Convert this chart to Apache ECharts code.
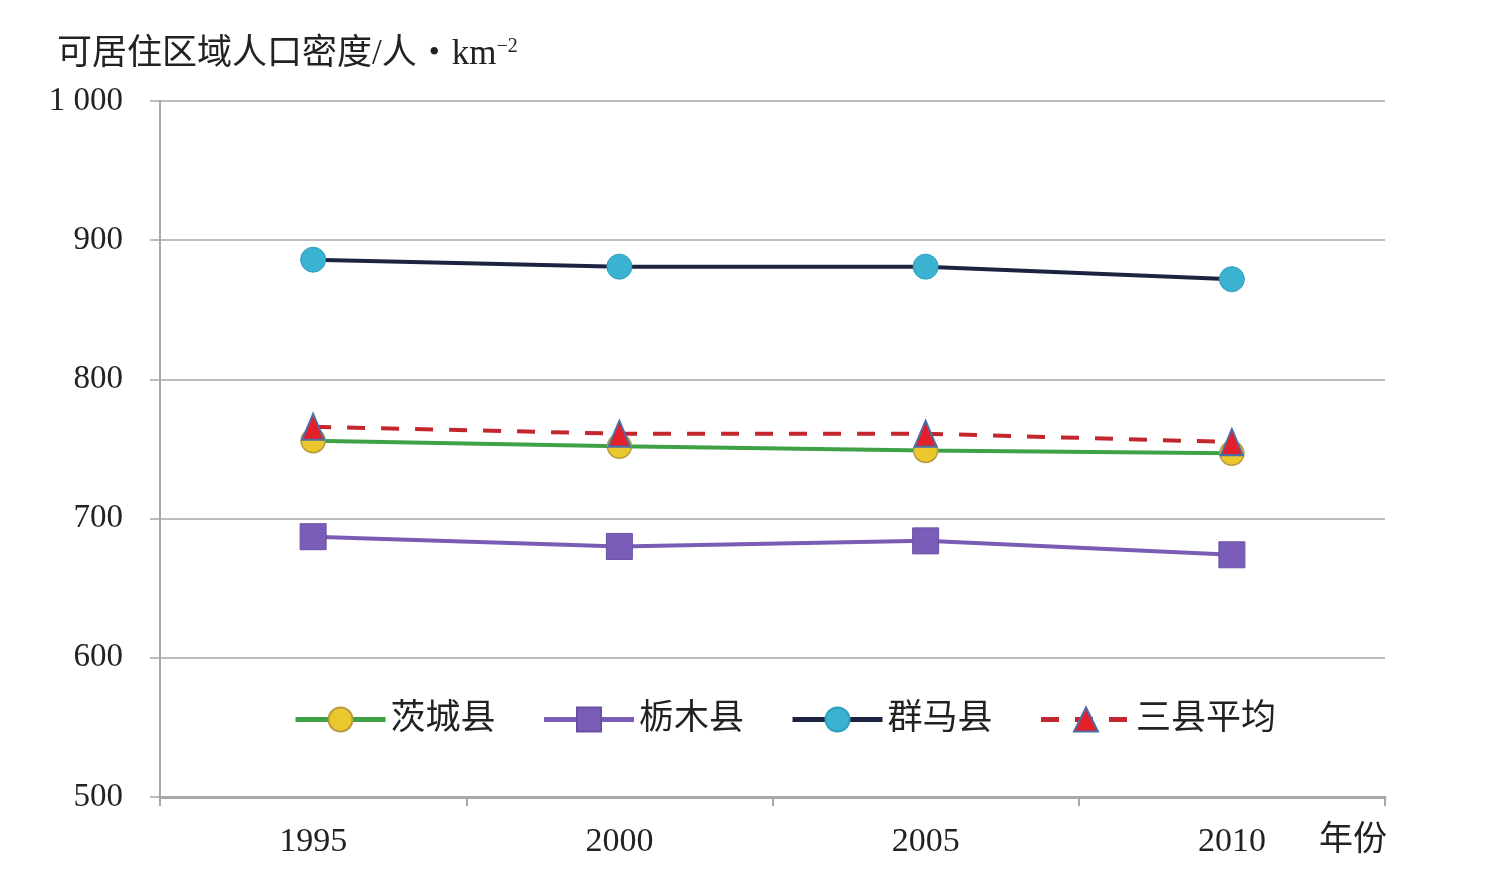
<!DOCTYPE html>
<html lang="zh">
<head>
    <meta charset="UTF-8">
    <title>可居住区域人口密度</title>
    <script src="https://cdn.jsdelivr.net/npm/echarts@6/dist/echarts.min.js"></script>
    <style>
        html, body { margin: 0; padding: 0; background: #fff; }
        #chart { width: 1498px; height: 883px; }
    </style>
</head>
<body>
    <div id="chart"></div>
<script>
    // 数据
    var years = ["1995", "2000", "2005", "2010"];
    var ibaraki = [756, 752, 749, 747];   // 茨城县
    var tochigi = [687, 680, 684, 674];   // 栃木县
    var gunma = [886, 881, 881, 872];     // 群马县
    var average = [766, 761, 761, 755];   // 三县平均
    var yMin = 500, yMax = 1000, yStep = 100;

    var serif = '"Liberation Serif", "Noto Sans CJK SC", serif';
    var chart = echarts.init(document.getElementById("chart"));

    var option = {
        backgroundColor: "#fff",
        animation: false,
        title: {
            text: "可居住区域人口密度/人・km{sup|−2}",
            left: 52,
            top: 32,
            textStyle: {
                fontFamily: serif,
                fontSize: 35,
                fontWeight: "normal",
                color: "#222",
                rich: {
                    sup: { fontFamily: serif, fontSize: 20, color: "#222", verticalAlign: "top", padding: [0, 0, 16, 0] }
                }
            }
        },
        grid: { left: 160, right: 113, top: 101, bottom: 86, containLabel: false },
        legend: {
            left: 288,
            top: 697,
            itemWidth: 90,
            itemHeight: 30,
            itemGap: 46,
            lineStyle: { width: 5 },
            textStyle: { fontFamily: serif, fontSize: 35, color: "#222" },
            data: ["茨城县", "栃木县", "群马县", "三县平均"]
        },
        xAxis: {
            type: "category",
            data: years,
            boundaryGap: true,
            name: "年份",
            nameLocation: "end",
            nameGap: -66,
            nameTextStyle: { fontFamily: serif, fontSize: 34, color: "#222", verticalAlign: "top", padding: [27, 0, 0, 0] },
            axisLine: { lineStyle: { color: "#a8a8a8", width: 3 } },
            axisTick: { show: true, alignWithLabel: false, length: 9, lineStyle: { color: "#a8a8a8", width: 2 } },
            axisLabel: { fontFamily: serif, fontSize: 34, color: "#222", margin: 28 },
            splitLine: { show: false }
        },
        yAxis: {
            type: "value",
            min: yMin,
            max: yMax,
            interval: yStep,
            axisLine: { show: true, lineStyle: { color: "#a8a8a8", width: 2 } },
            axisTick: { show: true, length: 10, lineStyle: { color: "#a8a8a8", width: 1.5 } },
            axisLabel: {
                fontFamily: serif, fontSize: 33, color: "#222", margin: 37,
                formatter: function (v) { return v >= 1000 ? String(v).replace(/(\d)(\d{3})$/, "$1 $2") : String(v); }
            },
            splitLine: { show: true, lineStyle: { color: "#a8a8a8", width: 1.5 } }
        },
        series: [
            {
                name: "茨城县",
                type: "line",
                data: ibaraki,
                symbol: "circle",
                symbolSize: 24,
                z: 3,
                lineStyle: { color: "#3ea146", width: 4 },
                itemStyle: { color: "#eac72c", borderColor: "#b59b3e", borderWidth: 1.5 }
            },
            {
                name: "栃木县",
                type: "line",
                data: tochigi,
                symbol: "rect",
                symbolSize: 26,
                lineStyle: { color: "#7b5cb5", width: 4 },
                itemStyle: { color: "#7a5db9", borderColor: "#6a50a0", borderWidth: 1 }
            },
            {
                name: "群马县",
                type: "line",
                data: gunma,
                symbol: "circle",
                symbolSize: 25,
                lineStyle: { color: "#1c2340", width: 4 },
                itemStyle: { color: "#3bb2d0", borderColor: "#2d9fbf", borderWidth: 1 }
            },
            {
                name: "三县平均",
                type: "line",
                data: average,
                symbol: "triangle",
                symbolSize: [22, 26],
                z: 4,
                lineStyle: { color: "#c3262c", width: 4, type: [18, 16] },
                itemStyle: { color: "#e3202a", borderColor: "#4c6ea8", borderWidth: 2 }
            }
        ]
    };
    chart.setOption(option);
    window.onresize = function () { chart.resize(); };
</script>
</body>
</html>
